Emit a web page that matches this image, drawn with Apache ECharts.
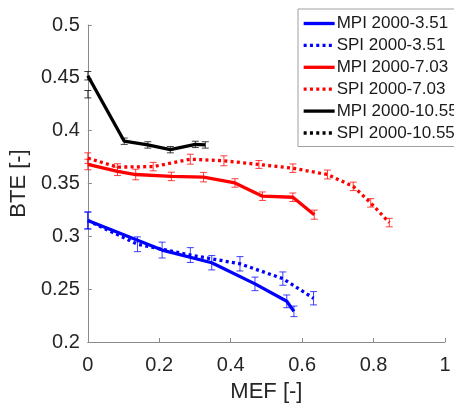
<!DOCTYPE html>
<html>
<head>
<meta charset="utf-8">
<script src="https://cdn.jsdelivr.net/npm/echarts@6/dist/echarts.min.js"></script>
<style>
html,body{margin:0;padding:0;background:#fff;}
#chart{width:454px;height:408px;}
</style>
</head>
<body>
<div id="chart"></div>
<script>
// ---- data ----
const seriesNames = ['MPI 2000-3.51','SPI 2000-3.51','MPI 2000-7.03','SPI 2000-7.03','MPI 2000-10.55','SPI 2000-10.55'];
const seriesColors = ['#0000ff','#0000ff','#ff0000','#ff0000','#000000','#000000'];
const seriesDotted = [false,true,false,true,false,true];

const mpi351X   = [0, 0.208, 0.347, 0.468, 0.557, 0.577];
const mpi351Y   = [0.315, 0.287, 0.275, 0.255, 0.2385, 0.229];
const mpi351Err = [0.008, 0.0075, 0.0068, 0.0064, 0.006, 0.005];

const spi351X   = [0, 0.139, 0.287, 0.426, 0.546, 0.632];
const spi351Y   = [0.315, 0.2925, 0.2823, 0.274, 0.260, 0.2414];
const spi351Err = [0.008, 0.007, 0.007, 0.0068, 0.0063, 0.0063];

const mpi703X   = [0, 0.083, 0.134, 0.234, 0.324, 0.412, 0.489, 0.574, 0.634];
const mpi703Y   = [0.368, 0.3615, 0.3585, 0.3567, 0.356, 0.3505, 0.338, 0.337, 0.3205];
const mpi703Err = [0.005, 0.004, 0.005, 0.004, 0.0045, 0.004, 0.004, 0.004, 0.0043];

const spi703X   = [0, 0.083, 0.183, 0.287, 0.381, 0.479, 0.574, 0.671, 0.743, 0.792, 0.844];
const spi703Y   = [0.374, 0.3655, 0.366, 0.373, 0.3715, 0.368, 0.3645, 0.3585, 0.3473, 0.3317, 0.313];
const spi703Err = [0.005, 0.0032, 0.004, 0.0047, 0.0047, 0.0037, 0.004, 0.0042, 0.004, 0.004, 0.004];

const mpi1055X   = [0, 0.102, 0.168, 0.231, 0.301, 0.329];
const mpi1055Y   = [0.452, 0.390, 0.3865, 0.382, 0.387, 0.3865];
const mpi1055Err = [0.004, 0.003, 0.003, 0.003, 0.003, 0.003];

const spi1055X   = [0];
const spi1055Y   = [0.4345];
const spi1055Err = [0.0035];

const xTicks = [0, 0.2, 0.4, 0.6, 0.8, 1];
const yTicks = [0.2, 0.25, 0.3, 0.35, 0.4, 0.45, 0.5];

// ---- build ----
const allX = [mpi351X, spi351X, mpi703X, spi703X, mpi1055X, spi1055X];
const allY = [mpi351Y, spi351Y, mpi703Y, spi703Y, mpi1055Y, spi1055Y];
const allE = [mpi351Err, spi351Err, mpi703Err, spi703Err, mpi1055Err, spi1055Err];

const series = [];
for (let i = 0; i < 6; i++) {
  const pts = allX[i].map((x, k) => [x, allY[i][k]]);
  series.push({
    name: seriesNames[i],
    type: 'line',
    data: pts,
    showSymbol: false,
    symbol: 'none',
    lineStyle: {
      color: seriesColors[i],
      width: 3.3,
      type: seriesDotted[i] ? [3, 3.3] : 'solid',
      cap: 'butt'
    },
    itemStyle: { color: seriesColors[i] },
    z: 3,
    animation: false
  });
}
for (let i = 0; i < 6; i++) {
  const ebData = allX[i].map((x, k) => [x, allY[i][k] - allE[i][k], allY[i][k] + allE[i][k]]);
  const col = seriesColors[i];
  series.push({
    type: 'custom',
    name: seriesNames[i] + ' err',
    data: ebData,
    z: 2,
    silent: true,
    animation: false,
    renderItem: function (params, api) {
      const x = api.value(0);
      const lo = api.coord([x, api.value(1)]);
      const hi = api.coord([x, api.value(2)]);
      const hw = 3.5;
      const st = { stroke: col, lineWidth: 1, opacity: 0.75 };
      return {
        type: 'group',
        children: [
          { type: 'line', shape: { x1: lo[0], y1: lo[1], x2: hi[0], y2: hi[1] }, style: st },
          { type: 'line', shape: { x1: lo[0] - hw, y1: lo[1], x2: lo[0] + hw, y2: lo[1] }, style: st },
          { type: 'line', shape: { x1: hi[0] - hw, y1: hi[1], x2: hi[0] + hw, y2: hi[1] }, style: st }
        ]
      };
    },
    encode: { x: 0, y: [1, 2] }
  });
}

const chart = echarts.init(document.getElementById('chart'), null, { renderer: 'canvas' });
const font = 'Arial, "Liberation Sans", Helvetica, sans-serif';
chart.setOption({
  animation: false,
  backgroundColor: '#ffffff',
  grid: { left: 85, right: 9, top: 25, bottom: 64, containLabel: false },
  legend: {
    data: seriesNames,
    orient: 'vertical',
    left: 298,
    top: 9,
    padding: [6, 20, 5, 4],
    itemWidth: 31,
    itemHeight: 14,
    itemGap: 4.9,
    itemStyle: { opacity: 0, borderWidth: 0 },
    lineStyle: { width: 3.3 },
    backgroundColor: '#ffffff',
    borderColor: '#a0a0a0',
    borderWidth: 1,
    borderRadius: 0,
    textStyle: { fontFamily: font, fontSize: 17, color: '#1a1a1a', padding: [0, 0, 0, -3], lineHeight: 17 }
  },
  xAxis: {
    type: 'value',
    min: 0, max: 1, interval: 0.2,
    name: 'MEF [-]',
    nameLocation: 'middle',
    nameGap: 39,
    nameTextStyle: { fontFamily: font, fontSize: 22, color: '#262626', verticalAlign: 'top' },
    axisLine: { show: true, lineStyle: { color: '#8a8a8a', width: 1 } },
    axisTick: { show: true, inside: true, length: 4, lineStyle: { color: '#8a8a8a' } },
    axisLabel: { fontFamily: font, fontSize: 20, color: '#262626', margin: 13,
      formatter: v => String(+v.toFixed(2)) },
    splitLine: { show: false }
  },
  yAxis: {
    type: 'value',
    min: 0.2, max: 0.5, interval: 0.05,
    name: 'BTE [-]',
    nameLocation: 'middle',
    nameGap: 56,
    nameTextStyle: { fontFamily: font, fontSize: 22, color: '#262626' },
    axisLine: { show: true, lineStyle: { color: '#8a8a8a', width: 1 } },
    axisTick: { show: true, inside: true, length: 4, lineStyle: { color: '#8a8a8a' } },
    axisLabel: { fontFamily: font, fontSize: 20, color: '#262626', margin: 8,
      formatter: v => String(+v.toFixed(2)) },
    splitLine: { show: false }
  },
  series: series
});
</script>
</body>
</html>
